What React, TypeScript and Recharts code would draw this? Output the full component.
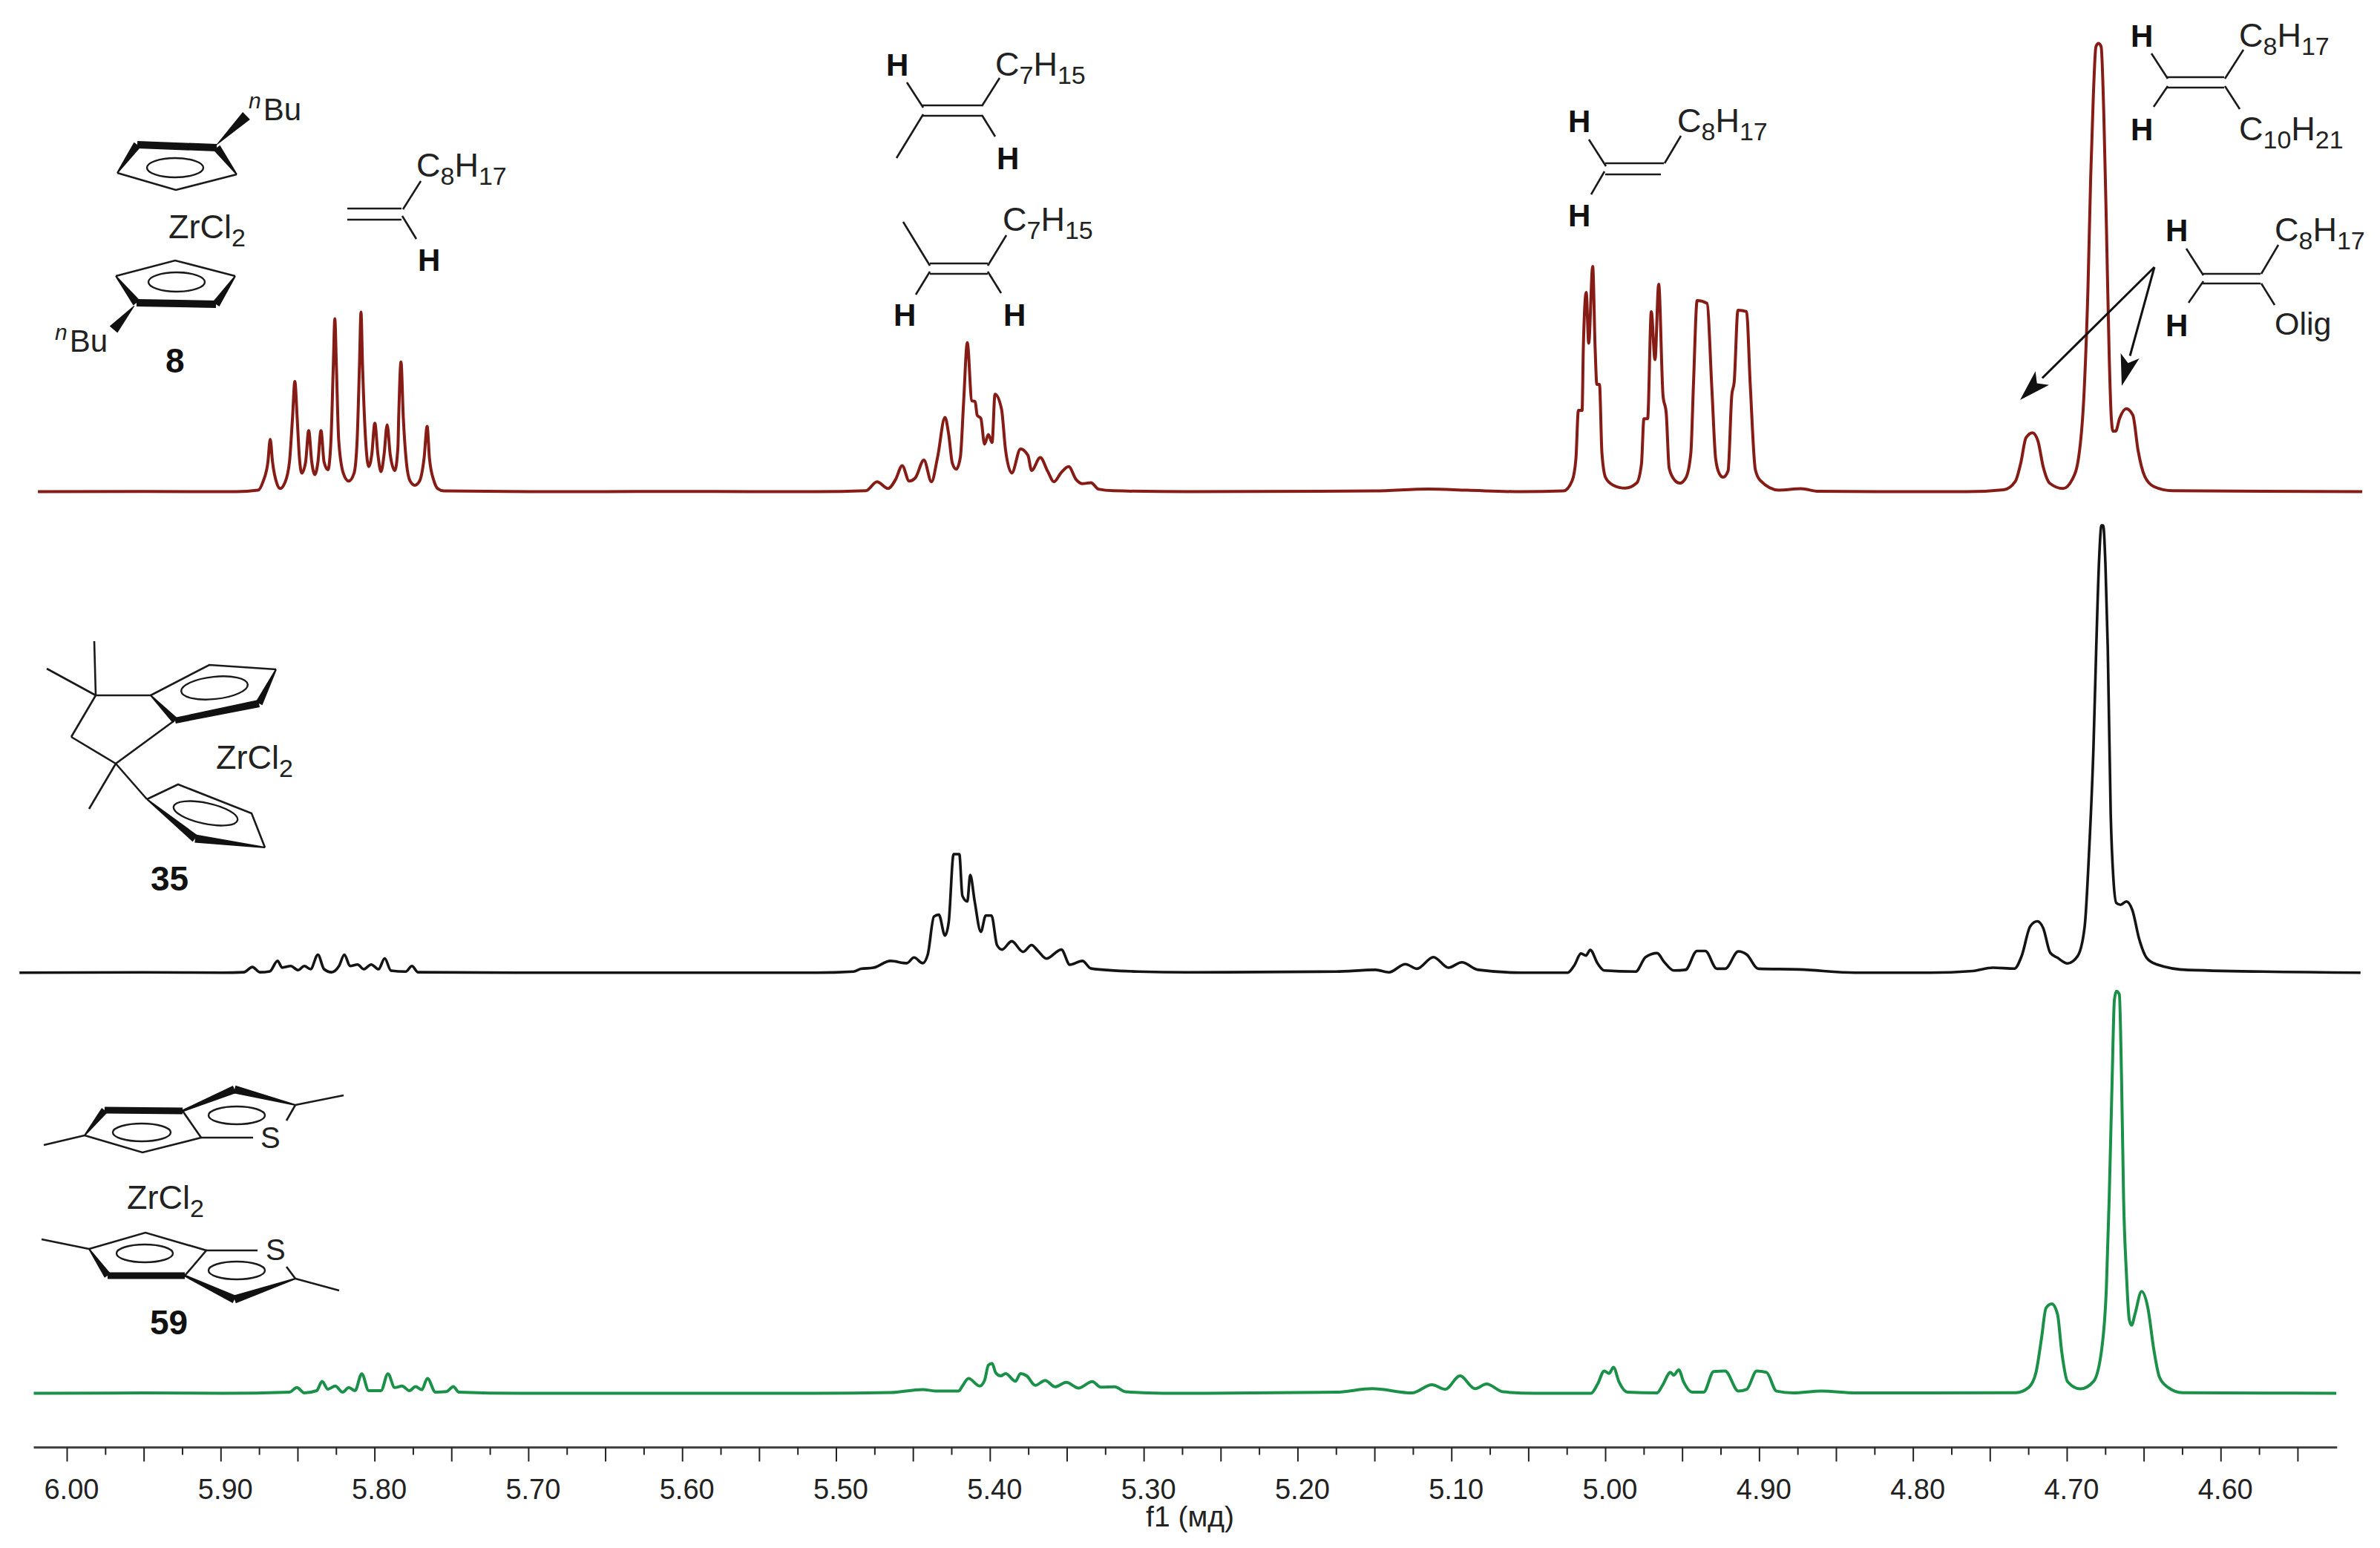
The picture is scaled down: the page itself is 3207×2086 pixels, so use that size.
import { LineChart, Line, XAxis, YAxis, ReferenceLine } from "recharts";

type Reading = [number, number];

const CHART_WIDTH = 3207;
const CHART_HEIGHT = 2086;

// [ppm, height above that spectrum's own baseline]
const redSpectrum: Reading[] = [
  [6.019, 0], [5.95, 0.4], [5.89, 0], [5.876, 2], [5.8726, 14], [5.8695, 40], [5.868, 70.7], [5.8665, 40],
  [5.8635, 10], [5.8615, 4.3], [5.8585, 12], [5.8555, 40], [5.8535, 100], [5.852, 148.7], [5.8505, 100],
  [5.849, 45], [5.8475, 25], [5.845, 40], [5.843, 82.4], [5.841, 40], [5.839, 23], [5.837, 40], [5.835, 82.4],
  [5.833, 40], [5.8305, 29.5], [5.8285, 70], [5.827, 170], [5.826, 233], [5.825, 170], [5.8235, 70],
  [5.8205, 25], [5.817, 14.3], [5.8135, 25], [5.8115, 70], [5.81, 170], [5.809, 242], [5.808, 170], [5.806, 70],
  [5.804, 33.8], [5.802, 50], [5.8, 92.4], [5.798, 50], [5.796, 27], [5.794, 50], [5.792, 90.2], [5.79, 50],
  [5.787, 28.6], [5.785, 60], [5.7845, 100], [5.783, 174.8], [5.7815, 100], [5.7795, 40], [5.777, 14],
  [5.774, 8.7], [5.771, 14], [5.768, 45], [5.766, 88], [5.7645, 45], [5.7615, 14], [5.759, 4], [5.755, 1],
  [5.7, 0], [5.6, 0.4], [5.513, 0],
  [5.4808, 1.3], [5.4736, 13.4], [5.4664, 4.3], [5.4615, 16.5], [5.4572, 35.1], [5.4527, 14.3], [5.4487, 18.6],
  [5.4431, 42.5], [5.4382, 13.4], [5.4342, 46.8], [5.4294, 100.2], [5.427, 77.2], [5.4246, 38.2], [5.4221, 30.4],
  [5.4194, 46.8], [5.4173, 120.6], [5.4149, 200.8], [5.412, 122.7], [5.4098, 121.4], [5.4085, 103.2],
  [5.4061, 98.9], [5.4037, 64.2], [5.4012, 77.2], [5.3988, 66.3], [5.3969, 131.4], [5.3927, 111.9], [5.39, 55.5],
  [5.386, 25.2], [5.3803, 57.7], [5.3755, 49], [5.3731, 28.6], [5.3675, 46], [5.3626, 27.3], [5.3586, 13.4],
  [5.3538, 26], [5.349, 33.8], [5.3442, 16.5], [5.3401, 10.8], [5.3345, 12.1], [5.3297, 3.5], [5.32, 1.3],
  [5.2718, 0], [5.15, 1], [5.115, 3.5], [5.09, 2], [5.0547, 0],
  [5.0274, 1.1], [5.0217, 15.2], [5.0193, 44.8], [5.0177, 109.5], [5.0153, 109.5], [5.0145, 192.7], [5.0126, 268.6],
  [5.011, 200.1], [5.0084, 303.7], [5.0068, 192.7], [5.0057, 144.7], [5.004, 144.7], [5.0024, 52.2], [5, 18.9],
  [4.9952, 8.9], [4.9872, 4.8], [4.9799, 11.5], [4.9767, 37.4], [4.9751, 98.4], [4.9727, 98.4], [4.9703, 242.7],
  [4.9679, 178], [4.9655, 279.7], [4.9627, 129.9], [4.9606, 105.8], [4.9587, 31.8], [4.955, 15.2], [4.9518, 11.5],
  [4.9478, 18.9], [4.9446, 52.2], [4.9429, 144.7], [4.9405, 257.5], [4.9341, 253.8], [4.9309, 137.3], [4.9285, 44.8],
  [4.9261, 24.4], [4.9236, 19.6], [4.9204, 28.1], [4.918, 129.9], [4.9164, 148.4], [4.914, 244.5], [4.9084, 242.7],
  [4.906, 144.7], [4.9027, 30], [4.8995, 15.2], [4.8875, 2.2], [4.873, 4], [4.8617, 0.5], [4.8232, 0],
  [4.7653, 0], [4.7413, 2.6], [4.7336, 14.3], [4.7302, 38.2], [4.7267, 72.9], [4.7225, 79.4], [4.719, 68.5],
  [4.7156, 33.8], [4.7113, 11.3], [4.7027, 4.3], [4.6967, 16.5], [4.6925, 46.8], [4.689, 133.6], [4.6865, 272.3],
  [4.6847, 424.1], [4.683, 532.5], [4.6813, 599.7], [4.6796, 604], [4.6779, 599.7], [4.6762, 510.8], [4.6745, 359.1],
  [4.6727, 185.6], [4.6714, 103.2], [4.6702, 81.5], [4.6685, 81.5], [4.6659, 98.9], [4.6616, 111.9], [4.6573, 103.2],
  [4.6539, 55.5], [4.6496, 20.8], [4.6436, 6.9], [4.6316, 1.3], [4.5082, 0],
];

const blackSpectrum: Reading[] = [
  [6.031, 0], [5.95, 0.4], [5.8989, 0], [5.8852, 0.6], [5.8796, 7.6], [5.8748, 0.6], [5.8683, 1.8], [5.8632, 15.9],
  [5.8603, 6.8], [5.8547, 8.9], [5.8499, 3.5], [5.8458, 8.9], [5.8418, 4.7], [5.837, 24.2], [5.833, 4.7],
  [5.8281, 0.6], [5.8233, 8.9], [5.8198, 24.2], [5.8161, 8.9], [5.8112, 11], [5.8072, 4.7], [5.8024, 11],
  [5.7976, 4.7], [5.7936, 19.2], [5.7895, 2.7], [5.7799, 1.4], [5.7759, 8.9], [5.7719, 0.6], [5.706, 0], [5.513, 0],
  [5.4889, 1.5], [5.4841, 5.1], [5.476, 6.6], [5.4648, 15.8], [5.4543, 12.8], [5.4495, 20.4], [5.4439, 12.8],
  [5.4406, 24.5], [5.4366, 75.5], [5.4334, 78.1], [5.4294, 50], [5.427, 67.9], [5.4238, 159.7], [5.4201, 159.7],
  [5.4181, 103.6], [5.4149, 95.9], [5.413, 131.6], [5.4101, 95.9], [5.4061, 55.1], [5.4029, 77], [5.3992, 77],
  [5.3956, 37.2], [5.3924, 31.1], [5.386, 42.3], [5.3787, 28.1], [5.3731, 37.2], [5.3691, 29.6], [5.3635, 18.9],
  [5.3538, 31.1], [5.3482, 10.7], [5.3401, 15.8], [5.3345, 5.6], [5.304, 1.5], [5.2718, 0.5], [5.1754, 1.4],
  [5.1496, 3.8], [5.1409, 0.5], [5.1302, 11.5], [5.1226, 5.3], [5.1119, 21], [5.1022, 6.7], [5.0935, 13.9],
  [5.0828, 3.8], [5.0548, 0], [5.0246, 0], [5.0203, 10], [5.016, 25.8], [5.0128, 23], [5.01, 30.6], [5.0052, 12.4],
  [5.0009, 2.9], [4.9805, 1.4], [4.974, 21], [4.9665, 26.3], [4.9621, 14.8], [4.9557, 2.9], [4.9481, 3.8],
  [4.9406, 29.2], [4.9352, 29.2], [4.9277, 5.3], [4.9223, 5.3], [4.9137, 28.7], [4.9083, 24.4], [4.9008, 5.3],
  [4.8738, 4.3], [4.8376, 0], [4.7894, 0],
  [4.7614, 2.2], [4.7483, 6.7], [4.7343, 5.4], [4.7296, 22.3], [4.724, 62.5], [4.7194, 69.2], [4.7156, 60.3],
  [4.711, 26.8], [4.7063, 20.1], [4.6998, 12.5], [4.6932, 22.3], [4.6886, 62.5], [4.6858, 160.7], [4.6829, 303.6],
  [4.6811, 437.5], [4.6792, 558], [4.6777, 602.7], [4.6766, 602.7], [4.6751, 549.1], [4.6736, 437.5], [4.6717, 214.3],
  [4.6699, 125], [4.668, 93.8], [4.6652, 91.5], [4.6615, 96], [4.6577, 84.8], [4.6531, 44.6], [4.6484, 20.1],
  [4.6419, 11.2], [4.6213, 3.6], [4.5093, 0],
];

const greenSpectrum: Reading[] = [
  [6.0217, 0], [5.95, 0.4], [5.8989, 0], [5.8555, 1.5], [5.8507, 7.7], [5.8458, 0.6], [5.8378, 3.5], [5.8343, 16],
  [5.8306, 5.6], [5.8257, 9.7], [5.8209, 1.5], [5.8169, 7.7], [5.8129, 3.5], [5.8085, 26.3], [5.804, 3.5],
  [5.796, 3.5], [5.7915, 26.3], [5.7871, 7.7], [5.7823, 9.7], [5.7775, 3.5], [5.7735, 8.9], [5.7695, 4.8],
  [5.7658, 20.1], [5.7606, 1.5], [5.7534, 2.3], [5.749, 8.9], [5.7453, 1.5], [5.706, 0], [5.513, 0],
  [5.4648, 1], [5.4439, 5.1], [5.4358, 3.1], [5.4205, 3.1], [5.4181, 9.7], [5.4141, 19.9], [5.4069, 9.7],
  [5.4037, 17.3], [5.4012, 37.8], [5.3988, 40.3], [5.3964, 27.6], [5.3932, 23.5], [5.39, 26.5], [5.3836, 16.3],
  [5.3803, 26.5], [5.3763, 23.5], [5.3707, 10.7], [5.3643, 17.3], [5.3578, 8.7], [5.3506, 14.8], [5.3426, 7.1],
  [5.3337, 15.8], [5.3281, 8.2], [5.3192, 8.7], [5.312, 2], [5.2879, 0], [5.2718, 0], [5.1754, 1.4],
  [5.1517, 6.2], [5.1259, 0.5], [5.1129, 11.5], [5.1043, 5.3], [5.0946, 23.4], [5.0849, 6.2], [5.0774, 12.4],
  [5.0666, 1.9], [5.0462, 0], [5.0095, 0], [5.0052, 12.4], [5.0009, 30.1], [4.9977, 26.8], [4.9949, 34.9],
  [4.9912, 14.8], [4.9858, 1.4], [4.9665, 0.5], [4.9632, 10], [4.9578, 28.2], [4.9557, 24.4], [4.9525, 31.6],
  [4.9492, 14.8], [4.9438, 1.4], [4.9363, 1.4], [4.9298, 29.2], [4.9223, 30.1], [4.9137, 2.9], [4.9083, 5.3],
  [4.9018, 30.1], [4.8954, 28.2], [4.8889, 2.9], [4.8781, 0.5], [4.8598, 2.9], [4.8376, 0.5], [4.7894, 0.4],
  [4.7334, 0.8], [4.725, 7.9], [4.7203, 27.7], [4.7166, 75.1], [4.7138, 114.7], [4.71, 120.6], [4.7063, 106.8],
  [4.7035, 55.4], [4.6998, 15.8], [4.6914, 5.9], [4.6829, 15.8], [4.6773, 63.3], [4.6745, 142.3], [4.6727, 261],
  [4.6708, 419.1], [4.6693, 529.9], [4.668, 541.7], [4.6661, 537.7], [4.6646, 419.1], [4.6633, 261], [4.6615, 162.1],
  [4.6596, 98.9], [4.6581, 91.7], [4.6559, 106.8], [4.6516, 137.2], [4.6475, 114.7], [4.6437, 59.3], [4.64, 21.7],
  [4.6344, 7.9], [4.6251, 0.8], [4.5251, 0],
];

const axisTicks = [
  6, 5.975, 5.95, 5.925, 5.9, 5.875, 5.85, 5.825, 5.8, 5.775, 5.75, 5.725, 5.7, 5.675, 5.65, 5.625, 5.6, 5.575, 5.55,
  5.525, 5.5, 5.475, 5.45, 5.425, 5.4, 5.375, 5.35, 5.325, 5.3, 5.275, 5.25, 5.225, 5.2, 5.175, 5.15, 5.125, 5.1,
  5.075, 5.05, 5.025, 5, 4.975, 4.95, 4.925, 4.9, 4.875, 4.85, 4.825, 4.8, 4.775, 4.75, 4.725, 4.7, 4.675, 4.65,
  4.625, 4.6, 4.575, 4.55,
];

const toRows = (readings: Reading[]) => readings.map(([ppm, height]) => ({ ppm, height }));

function AxisTick({ x, y, payload }: any) {
  const milli = Math.round(payload.value * 1000);
  const isLong = milli % 50 === 0;
  const hasLabel = milli % 100 === 0;
  return (
    <g>
      <line x1={x} x2={x} y1={y} y2={y + (isLong ? 19 : 10)} stroke="#222" strokeWidth={2} />
      {hasLabel && (
        <text x={x + 6} y={y + 69} textAnchor="middle" fontSize={38} fontFamily="Liberation Sans" fill="#222">
          {payload.value.toFixed(2)}
        </text>
      )}
    </g>
  );
}

const FONT = "Liberation Sans";

function Bond({ d }: { d: number[] }) {
  return <line x1={d[0]} y1={d[1]} x2={d[2]} y2={d[3]} stroke="#1a1a1a" strokeWidth={2.6} />;
}

// tapered ring edge: w1 wide at the start, w2 wide at the end
function Wedge({ d, w1, w2 }: { d: number[]; w1: number; w2: number }) {
  const [x1, y1, x2, y2] = d;
  const len = Math.hypot(x2 - x1, y2 - y1);
  const nx = (-(y2 - y1) / len) * 0.5;
  const ny = ((x2 - x1) / len) * 0.5;
  const points = [
    [x1 + nx * w1, y1 + ny * w1],
    [x2 + nx * w2, y2 + ny * w2],
    [x2 - nx * w2, y2 - ny * w2],
    [x1 - nx * w1, y1 - ny * w1],
  ];
  return <polygon points={points.map((p) => p.join(",")).join(" ")} fill="#111" />;
}

function Arrow({ d }: { d: number[] }) {
  const [x1, y1, x2, y2] = d;
  const len = Math.hypot(x2 - x1, y2 - y1);
  const ux = (x2 - x1) / len;
  const uy = (y2 - y1) / len;
  const bx = x2 - ux * 42;
  const by = y2 - uy * 42;
  const nx = bx - ux * -10;
  const ny = by - uy * -10;
  const head = [
    [x2, y2],
    [bx - uy * 13, by + ux * 13],
    [nx, ny],
    [bx + uy * 13, by - ux * 13],
  ];
  return (
    <g>
      <line x1={x1} y1={y1} x2={bx} y2={by} stroke="#111" strokeWidth={3} />
      <polygon points={head.map((p) => p.join(",")).join(" ")} fill="#111" />
    </g>
  );
}

// alternating normal / subscript pieces
function Formula({ x, y, parts, size = 45 }: { x: number; y: number; parts: string[]; size?: number }) {
  const sub = Math.round(size * 0.75);
  const drop = Math.round(size * 0.24);
  return (
    <text x={x} y={y} fontFamily={FONT} fontSize={size} fill="#222">
      {parts.map((part, i) => (
        <tspan key={i} fontSize={i % 2 ? sub : size} dy={i === 0 ? 0 : i % 2 ? drop : -drop}>
          {part}
        </tspan>
      ))}
    </text>
  );
}

function Atom({ x, y, label }: { x: number; y: number; label: string }) {
  return (
    <text x={x} y={y} fontFamily={FONT} fontSize={42} fontWeight="bold" fill="#111">
      {label}
    </text>
  );
}

function Plain({ x, y, label, size = 42 }: { x: number; y: number; label: string; size?: number }) {
  return (
    <text x={x} y={y} fontFamily={FONT} fontSize={size} fill="#222">
      {label}
    </text>
  );
}

function NBu({ x, y }: { x: number; y: number }) {
  return (
    <text x={x} y={y} fontFamily={FONT} fontSize={42} fill="#222">
      <tspan fontSize={30} fontStyle="italic" dy={-16}>n</tspan>
      <tspan dy={16} dx={3}>Bu</tspan>
    </text>
  );
}

function Ring({ cx, cy, rx, ry, rotate = 0 }: { cx: number; cy: number; rx: number; ry: number; rotate?: number }) {
  return (
    <ellipse
      cx={cx}
      cy={cy}
      rx={rx}
      ry={ry}
      fill="none"
      stroke="#1a1a1a"
      strokeWidth={2.4}
      transform={`rotate(${rotate} ${cx} ${cy})`}
    />
  );
}

function Structures() {
  return (
    <svg
      width={CHART_WIDTH}
      height={CHART_HEIGHT}
      style={{ position: "absolute", left: 0, top: 0, pointerEvents: "none" }}
    >
      {/* catalyst 8 */}
      <polyline points="158,233 237,256 319,235" fill="none" stroke="#1a1a1a" strokeWidth={2.6} />
      <Wedge d={[158, 233, 185, 195]} w1={2} w2={11} />
      <Wedge d={[185, 195, 292, 199]} w1={10} w2={10} />
      <Wedge d={[292, 199, 319, 235]} w1={11} w2={2} />
      <Ring cx={236} cy={226} rx={38} ry={13} />
      <Wedge d={[292, 195, 332, 156]} w1={1} w2={14} />
      <NBu x={335} y={162} />
      <Formula x={227} y={321} parts={["ZrCl", "2"]} />
      <polyline points="156,372 236,351 317,372" fill="none" stroke="#1a1a1a" strokeWidth={2.6} />
      <Wedge d={[156, 372, 184, 408]} w1={2} w2={11} />
      <Wedge d={[184, 408, 291, 410]} w1={10} w2={10} />
      <Wedge d={[291, 410, 317, 372]} w1={11} w2={2} />
      <Ring cx={238} cy={380} rx={38} ry={13} />
      <Wedge d={[181, 412, 153, 444]} w1={1} w2={14} />
      <NBu x={74} y={474} />
      <text x={223} y={502} fontFamily={FONT} fontSize={46} fontWeight="bold" fill="#111">8</text>

      {/* terminal vinyl */}
      <Bond d={[468, 281, 541, 281]} />
      <Bond d={[468, 296, 541, 296]} />
      <Bond d={[543, 282, 567, 244]} />
      <Bond d={[542, 291, 561, 322]} />
      <Formula x={561} y={238} parts={["C", "8", "H", "17"]} />
      <Atom x={563} y={365} label="H" />

      {/* internal alkenes */}
      <Bond d={[1243, 142, 1323, 142]} />
      <Bond d={[1243, 156, 1323, 156]} />
      <Bond d={[1222, 111, 1244, 145]} />
      <Bond d={[1244, 154, 1208, 213]} />
      <Bond d={[1323, 143, 1347, 105]} />
      <Bond d={[1323, 155, 1341, 184]} />
      <Atom x={1194} y={102} label="H" />
      <Atom x={1343} y={228} label="H" />
      <Formula x={1341} y={102} parts={["C", "7", "H", "15"]} />

      <Bond d={[1253, 355, 1331, 355]} />
      <Bond d={[1253, 369, 1331, 369]} />
      <Bond d={[1217, 299, 1253, 358]} />
      <Bond d={[1253, 366, 1234, 397]} />
      <Bond d={[1331, 358, 1356, 317]} />
      <Bond d={[1331, 366, 1349, 395]} />
      <Atom x={1204} y={439} label="H" />
      <Atom x={1352} y={439} label="H" />
      <Formula x={1351} y={311} parts={["C", "7", "H", "15"]} />

      {/* vinyl with 2 H */}
      <Bond d={[2163, 220, 2242, 220]} />
      <Bond d={[2163, 235, 2238, 235]} />
      <Bond d={[2141, 188, 2164, 224]} />
      <Bond d={[2162, 231, 2144, 262]} />
      <Bond d={[2243, 220, 2265, 183]} />
      <Atom x={2113} y={178} label="H" />
      <Atom x={2113} y={305} label="H" />
      <Formula x={2260} y={178} parts={["C", "8", "H", "17"]} />

      {/* vinylidene */}
      <Bond d={[2920, 104, 2997, 104]} />
      <Bond d={[2920, 118, 2997, 118]} />
      <Bond d={[2899, 72, 2921, 106]} />
      <Bond d={[2921, 116, 2902, 144]} />
      <Bond d={[2998, 106, 3023, 67]} />
      <Bond d={[2998, 116, 3018, 147]} />
      <Atom x={2871} y={63} label="H" />
      <Atom x={2871} y={189} label="H" />
      <Formula x={3017} y={63} parts={["C", "8", "H", "17"]} />
      <Formula x={3017} y={189} parts={["C", "10", "H", "21"]} />

      <Bond d={[2968, 369, 3046, 369]} />
      <Bond d={[2968, 382, 3046, 382]} />
      <Bond d={[2946, 335, 2969, 371]} />
      <Bond d={[2969, 379, 2949, 408]} />
      <Bond d={[3047, 369, 3070, 330]} />
      <Bond d={[3047, 382, 3065, 411]} />
      <Atom x={2918} y={325} label="H" />
      <Atom x={2918} y={453} label="H" />
      <Formula x={3065} y={325} parts={["C", "8", "H", "17"]} />
      <Plain x={3065} y={451} label="Olig" size={43} />
      <Arrow d={[2903, 360, 2722, 539]} />
      <Arrow d={[2903, 360, 2859, 520]} />

      {/* catalyst 35 */}
      <Bond d={[127, 864, 129, 937]} />
      <Bond d={[63, 901, 129, 937]} />
      <Bond d={[129, 937, 203, 937]} />
      <Bond d={[129, 937, 96, 993]} />
      <Bond d={[96, 993, 156, 1029]} />
      <Bond d={[156, 1029, 120, 1090]} />
      <Bond d={[156, 1029, 235, 971]} />
      <Bond d={[156, 1029, 198, 1077]} />
      <polyline points="203,937 282,896 372,902" fill="none" stroke="#1a1a1a" strokeWidth={2.6} />
      <Wedge d={[372, 902, 349, 948]} w1={2} w2={10} />
      <Wedge d={[349, 948, 236, 971]} w1={10} w2={8} />
      <Wedge d={[236, 971, 203, 937]} w1={9} w2={2} />
      <Ring cx={289} cy={927} rx={45} ry={15} rotate={-6} />
      <Formula x={291} y={1036} parts={["ZrCl", "2"]} />
      <polyline points="198,1077 240,1057 339,1096 357,1142" fill="none" stroke="#1a1a1a" strokeWidth={2.6} />
      <Wedge d={[357, 1142, 263, 1130]} w1={2} w2={11} />
      <Wedge d={[263, 1130, 198, 1077]} w1={11} w2={2} />
      <Ring cx={277} cy={1096} rx={44} ry={14} rotate={12} />
      <text x={203} y={1200} fontFamily={FONT} fontSize={46} fontWeight="bold" fill="#111">35</text>

      {/* catalyst 59 */}
      <Bond d={[59, 1543, 114, 1530]} />
      <polyline points="114,1530 192,1553 271,1533 246,1497" fill="none" stroke="#1a1a1a" strokeWidth={2.6} />
      <Wedge d={[114, 1530, 141, 1496]} w1={2} w2={10} />
      <Wedge d={[141, 1496, 246, 1497]} w1={9} w2={9} />
      <Wedge d={[246, 1497, 316, 1468]} w1={3} w2={11} />
      <Wedge d={[316, 1468, 398, 1489]} w1={11} w2={2} />
      <Bond d={[271, 1533, 341, 1533]} />
      <Bond d={[398, 1489, 386, 1510]} />
      <Bond d={[398, 1489, 463, 1476]} />
      <Ring cx={191} cy={1526} rx={39} ry={12} />
      <Ring cx={319} cy={1503} rx={38} ry={12} />
      <Plain x={351} y={1547} label="S" size={40} />
      <Formula x={171} y={1629} parts={["ZrCl", "2"]} />
      <Bond d={[56, 1670, 120, 1683]} />
      <polyline points="120,1683 196,1661 278,1685 249,1719" fill="none" stroke="#1a1a1a" strokeWidth={2.6} />
      <Wedge d={[120, 1683, 145, 1719]} w1={2} w2={10} />
      <Wedge d={[145, 1719, 249, 1719]} w1={9} w2={9} />
      <Wedge d={[249, 1719, 316, 1751]} w1={3} w2={11} />
      <Wedge d={[316, 1751, 398, 1723]} w1={11} w2={2} />
      <Bond d={[278, 1685, 347, 1685]} />
      <Bond d={[398, 1723, 386, 1707]} />
      <Bond d={[398, 1723, 457, 1739]} />
      <Ring cx={195} cy={1689} rx={38} ry={12} />
      <Ring cx={319} cy={1712} rx={38} ry={12} />
      <Plain x={358} y={1698} label="S" size={40} />
      <text x={202} y={1798} fontFamily={FONT} fontSize={46} fontWeight="bold" fill="#111">59</text>
    </svg>
  );
}

export default function App() {
  return (
    <div style={{ position: "absolute", left: 0, top: 0, width: CHART_WIDTH, height: CHART_HEIGHT, background: "#fff" }}>
      <LineChart width={CHART_WIDTH} height={CHART_HEIGHT} margin={{ top: 0, right: 20, bottom: 0, left: 20 }}>
        <XAxis
          type="number"
          dataKey="ppm"
          reversed
          domain={[4.5063, 6.034]}
          ticks={axisTicks}
          interval={0}
          height={135.5}
          axisLine={false}
          tickLine={false}
          tickSize={0}
          tickMargin={0}
          tick={<AxisTick />}
          label={{
            value: "f1 (мд)",
            position: "insideBottom",
            offset: 29,
            style: { fontSize: 39, fontFamily: "Liberation Sans", fill: "#222" },
          }}
        />
        {/* one hidden axis per spectrum, so each sits on its own baseline */}
        <YAxis yAxisId="red" hide domain={[-1287.9, 662.6]} />
        <YAxis yAxisId="black" hide domain={[-639.8, 1310.7]} />
        <YAxis yAxisId="green" hide domain={[-73, 1877.5]} />
        <ReferenceLine
          yAxisId="green"
          segment={[
            { x: 6.0217, y: -73 },
            { x: 4.5245, y: -73 },
          ]}
          stroke="#444"
          strokeWidth={3}
        />
        <Line
          yAxisId="red"
          data={toRows(redSpectrum)}
          dataKey="height"
          type="monotone"
          stroke="#861c16"
          strokeWidth={4}
          dot={false}
          isAnimationActive={false}
        />
        <Line
          yAxisId="black"
          data={toRows(blackSpectrum)}
          dataKey="height"
          type="monotone"
          stroke="#141414"
          strokeWidth={3.6}
          dot={false}
          isAnimationActive={false}
        />
        <Line
          yAxisId="green"
          data={toRows(greenSpectrum)}
          dataKey="height"
          type="monotone"
          stroke="#1a9048"
          strokeWidth={4}
          dot={false}
          isAnimationActive={false}
        />
      </LineChart>
      <Structures />
    </div>
  );
}
